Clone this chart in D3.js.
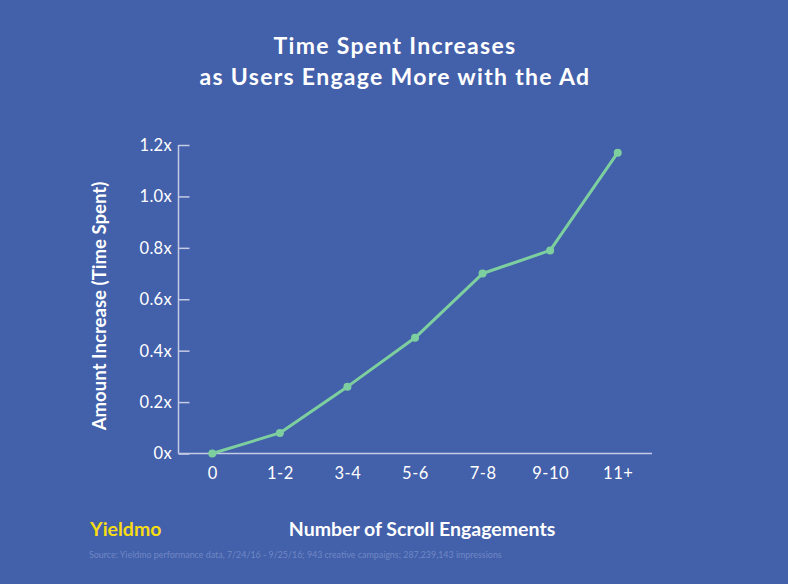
<!DOCTYPE html>
<html><head><meta charset="utf-8">
<script src="https://cdn.jsdelivr.net/npm/d3@7"></script>
<style>html,body{margin:0;padding:0;background:#4360aa;}svg{display:block;}</style>
</head><body>
<script>
const categories = ["0","1-2","3-4","5-6","7-8","9-10","11+"];
const values = [0, 0.08, 0.26, 0.45, 0.70, 0.79, 1.17];
const yTicks = [0, 0.2, 0.4, 0.6, 0.8, 1.0, 1.2];
const yTickLabels = ["0x","0.2x","0.4x","0.6x","0.8x","1.0x","1.2x"];
const titleLines = ["Time Spent Increases","as Users Engage More with the Ad"];

const W = 788, H = 584;
const font = "Lato, 'Open Sans', sans-serif";
const svg = d3.select("body").append("svg").attr("width", W).attr("height", H);
svg.append("rect").attr("width", W).attr("height", H).attr("fill", "#4360aa");

const x = d3.scalePoint().domain(categories).range([178.5, 651.5]).padding(0.5);
const y = d3.scaleLinear().domain([0, 1.2]).range([453.5, 145]);

const axisColor = "#c5cbe5";
// y axis
const gy = svg.append("g").attr("transform", "translate(178.5,0)")
  .call(d3.axisRight(y).tickValues(yTicks).tickSize(11).tickFormat(""));
gy.select(".domain").attr("stroke", axisColor).attr("stroke-width", 1.5).attr("d", `M0,${y(1.2)}V${y(0)}`);
gy.selectAll(".tick line").attr("stroke", axisColor).attr("stroke-width", 1.5);
svg.append("g").selectAll("text").data(yTicks).join("text")
  .attr("x", 172).attr("y", d => y(d)).attr("dy", "0.36em")
  .attr("text-anchor", "end").attr("fill", "#fff")
  .attr("font-family", font).attr("font-size", 16.5).attr("letter-spacing", 0.3)
  .text((d, i) => yTickLabels[i]);

// x axis
const gx = svg.append("g").attr("transform", "translate(0,453.5)")
  .call(d3.axisBottom(x).tickSize(0).tickPadding(14));
gx.select(".domain").attr("stroke", axisColor).attr("stroke-width", 1.5).attr("d", "M178.5,0H652");
gx.selectAll(".tick text").attr("fill", "#fff").attr("font-family", font).attr("font-size", 16.5).attr("letter-spacing", 0.5);

// line
const line = d3.line().x((d, i) => x(categories[i])).y(d => y(d));
svg.append("path").datum(values).attr("d", line)
  .attr("fill", "none").attr("stroke", "#7ecf9f").attr("stroke-width", 3).attr("stroke-linejoin", "round");
svg.append("g").selectAll("circle").data(values).join("circle")
  .attr("cx", (d, i) => x(categories[i])).attr("cy", d => y(d)).attr("r", 4)
  .attr("fill", "#7ecf9f");

// title
svg.append("g").selectAll("text").data(titleLines).join("text")
  .attr("x", 395).attr("y", (d, i) => 53.5 + i * 31.5)
  .attr("text-anchor", "middle").attr("fill", "#fff")
  .attr("font-family", font).attr("font-weight", "bold").attr("font-size", 23).attr("letter-spacing", 1.3)
  .text(d => d);

// axis titles
svg.append("text").attr("transform", "translate(106,306) rotate(-90)")
  .attr("text-anchor", "middle").attr("fill", "#fff")
  .attr("font-family", font).attr("font-weight", "bold").attr("font-size", 18.6)
  .text("Amount Increase (Time Spent)");
svg.append("text").attr("x", 422).attr("y", 536)
  .attr("text-anchor", "middle").attr("fill", "#fff")
  .attr("font-family", font).attr("font-weight", "bold").attr("font-size", 19.5)
  .text("Number of Scroll Engagements");

// logo
svg.append("text").attr("x", 90).attr("y", 536)
  .attr("fill", "#f7dc14").attr("font-family", font).attr("font-weight", "bold").attr("font-size", 19.5)
  .text("Yieldmo");
// source
svg.append("text").attr("x", 89).attr("y", 558)
  .attr("fill", "#7088c6").attr("font-family", font).attr("font-size", 8.9)
  .text("Source: Yieldmo performance data, 7/24/16 - 9/25/16; 943 creative campaigns; 287,239,143 impressions");
</script>
</body></html>
